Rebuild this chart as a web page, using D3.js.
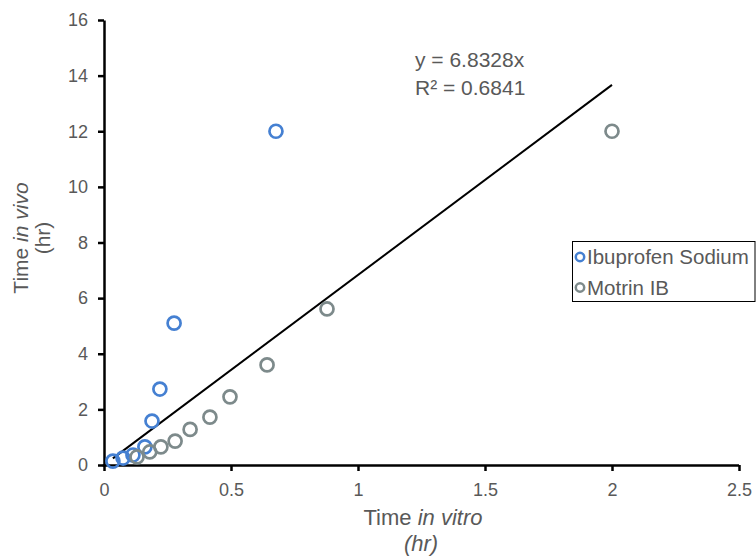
<!DOCTYPE html>
<html>
<head>
<meta charset="utf-8">
<script src="https://cdn.jsdelivr.net/npm/d3@7"></script>
<style>
  html, body { margin: 0; padding: 0; background: #fff; }
  svg { display: block; font-family: "Liberation Sans", Arial, sans-serif; }
</style>
</head>
<body>
<svg id="chart" width="756" height="556"></svg>
<script>
// In vitro vs in vivo times (hr)
const ibuprofenX = [0.035, 0.075, 0.114, 0.161, 0.189, 0.22, 0.276, 0.677];
const ibuprofenY = [0.14, 0.25, 0.36, 0.65, 1.58, 2.73, 5.1, 12.0];
const motrinX = [0.13, 0.18, 0.224, 0.28, 0.339, 0.417, 0.496, 0.642, 0.878, 2.0];
const motrinY = [0.29, 0.47, 0.65, 0.86, 1.28, 1.72, 2.45, 3.6, 5.61, 12.0];
const xTicks = [0, 0.5, 1, 1.5, 2, 2.5];
const yTicks = [0, 2, 4, 6, 8, 10, 12, 14, 16];
const slope = 6.8328;
const rSquared = 0.6841;
const seriesNames = ["Ibuprofen Sodium", "Motrin IB"];
const seriesColors = ["#4580d2", "#7d8a8b"];

const svg = d3.select("#chart");
const x = d3.scaleLinear().domain([0, 2.5]).range([104, 739]);
const y = d3.scaleLinear().domain([0, 16]).range([465, 20]);
const textColor = "#595959";

// Axes
const xAxis = svg.append("g").attr("transform", `translate(0,${y(0)})`)
  .call(d3.axisBottom(x).tickValues(xTicks).tickSizeInner(6).tickSizeOuter(0).tickPadding(12)
    .tickFormat(d => d3.format("")(d)));
const yAxis = svg.append("g").attr("transform", `translate(${x(0)},0)`)
  .call(d3.axisLeft(y).tickValues(yTicks).tickSizeInner(6).tickSizeOuter(0).tickPadding(10));
[xAxis, yAxis].forEach(g => {
  g.select(".domain").attr("stroke", "#000").attr("stroke-width", 2.5);
  g.selectAll(".tick line").attr("stroke", "#000").attr("stroke-width", 2.5);
  g.selectAll(".tick text").attr("fill", textColor).attr("font-size", 18)
    .attr("font-family", "Liberation Sans, Arial, sans-serif");
});
// Extend the x domain so the corner joins cleanly
xAxis.select(".domain").attr("d", `M${x(0) - 1.25},0.5H${x(2.5)}`);

// Axis titles
const xt = svg.append("text").attr("x", 423).attr("y", 525).attr("text-anchor", "middle")
  .attr("fill", textColor).attr("font-size", 22);
xt.append("tspan").text("Time ");
xt.append("tspan").attr("font-style", "italic").text("in vitro");
svg.append("text").attr("x", 421).attr("y", 551).attr("text-anchor", "middle")
  .attr("fill", textColor).attr("font-size", 22).attr("font-style", "italic").text("(hr)");

const yt = svg.append("g").attr("transform", "translate(28,238) rotate(-90)");
const yt1 = yt.append("text").attr("x", 0).attr("y", 0).attr("text-anchor", "middle")
  .attr("fill", textColor).attr("font-size", 21);
yt1.append("tspan").text("Time ");
yt1.append("tspan").attr("font-style", "italic").text("in vivo");
yt.append("text").attr("x", 0).attr("y", 22).attr("text-anchor", "middle")
  .attr("fill", textColor).attr("font-size", 21).text("(hr)");

// Linear trendline through origin
const allX = ibuprofenX.concat(motrinX);
const xMin = d3.min(allX), xMax = d3.max(allX);
svg.append("line")
  .attr("x1", x(xMin)).attr("y1", y(slope * xMin))
  .attr("x2", x(xMax)).attr("y2", y(slope * xMax))
  .attr("stroke", "#000").attr("stroke-width", 2);

// Equation label
svg.append("text").attr("x", 415).attr("y", 67).attr("fill", textColor).attr("font-size", 21)
  .text(`y = ${slope}x`);
svg.append("text").attr("x", 415).attr("y", 95).attr("fill", textColor).attr("font-size", 21)
  .text(`R² = ${rSquared}`);

// Scatter markers
const series = [
  { xs: ibuprofenX, ys: ibuprofenY, color: seriesColors[0] },
  { xs: motrinX, ys: motrinY, color: seriesColors[1] }
];
series.forEach(s => {
  svg.append("g").selectAll("circle")
    .data(s.xs.map((v, i) => [v, s.ys[i]]))
    .join("circle")
    .attr("cx", d => x(d[0])).attr("cy", d => y(d[1])).attr("r", 6.5)
    .attr("fill", "none").attr("stroke", s.color).attr("stroke-width", 2.7);
});

// Legend
const lg = svg.append("g");
lg.append("rect").attr("x", 572.5).attr("y", 241.5).attr("width", 182.5).attr("height", 60)
  .attr("fill", "#fff").attr("stroke", "#000").attr("stroke-width", 1);
seriesNames.forEach((name, i) => {
  const cy = 257 + i * 30.5;
  lg.append("circle").attr("cx", 580).attr("cy", cy).attr("r", 4.2)
    .attr("fill", "none").attr("stroke", seriesColors[i]).attr("stroke-width", 2.5);
  lg.append("text").attr("x", 587).attr("y", cy + 7.2).attr("fill", textColor)
    .attr("font-size", 20.5).text(name);
});
</script>
</body>
</html>
